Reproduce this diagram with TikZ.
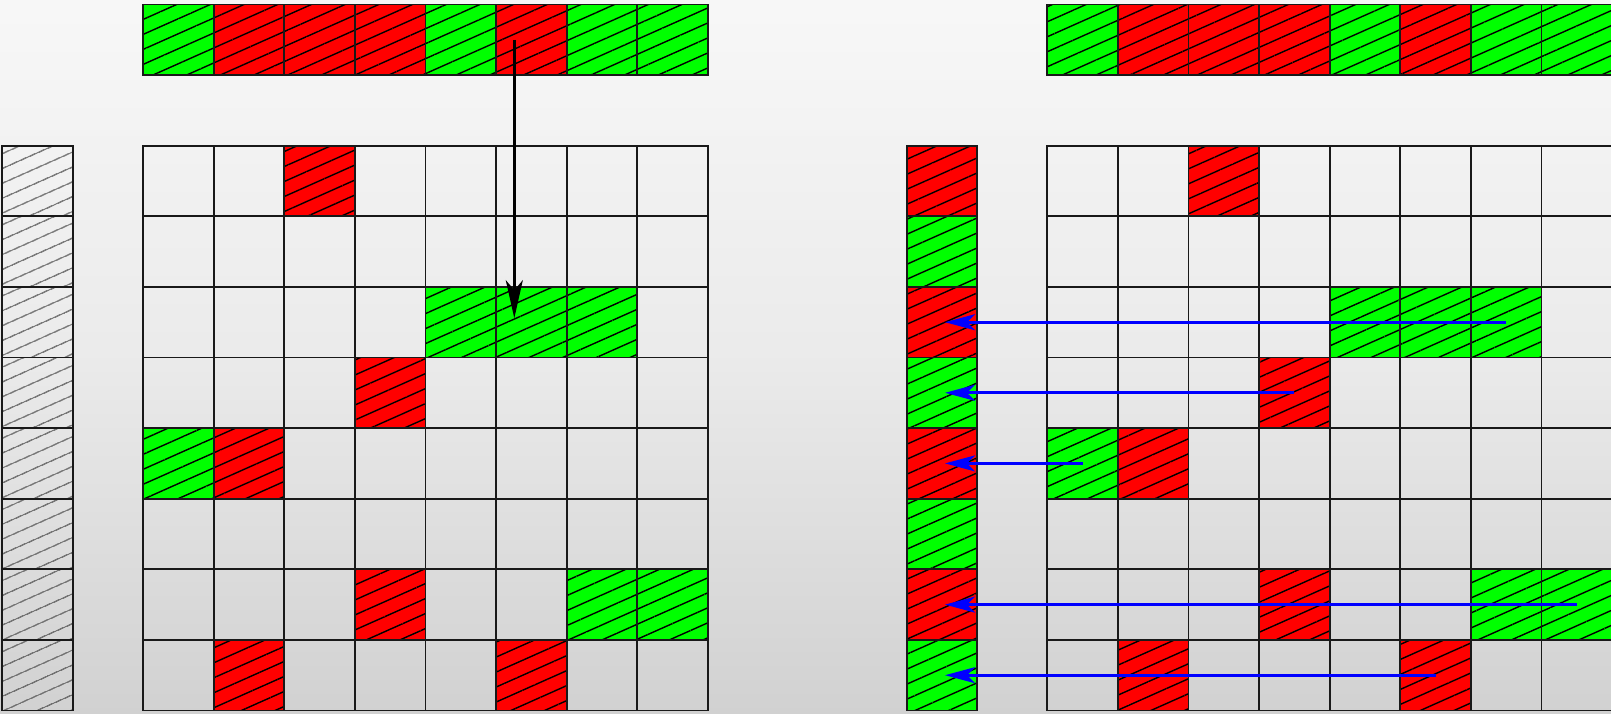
\documentclass[tikz,border=0pt]{standalone}
\usetikzlibrary{patterns.meta,arrows.meta}
\definecolor{gr}{RGB}{0,255,0}
\definecolor{rd}{RGB}{255,0,0}
\definecolor{bl}{RGB}{0,0,255}
\tikzset{
 cell/.style={draw=black!90, line width=1.8pt, minimum size=70.6pt, inner sep=0pt, outer sep=0pt, anchor=north west},
 hatch/.style={pattern={Lines[angle=24,distance=13.7pt,line width=1.4pt]}, pattern color=black},
 gcell/.style={cell, hatch, preaction={fill=gr}},
 rcell/.style={cell, hatch, preaction={fill=rd}},
 ecell/.style={cell},
 hcell/.style={cell, pattern={Lines[angle=24,distance=13pt,line width=1.1pt]}, pattern color=black!75},
 bluearrow/.style={draw=bl, line width=3pt, -{Stealth[length=30pt,width=16pt,inset=8pt]}},
 blackarrow/.style={draw=black, line width=2.8pt, -{Stealth[length=38pt,width=17pt,inset=10pt]}},
}
\begin{document}
\begin{tikzpicture}[x=1pt,y=-1pt]
\useasboundingbox (0,0) rectangle (1611,713);
\clip (0,0) rectangle (1611,713);
\shade[top color=white!97!black, bottom color=white!82!black, middle color=white!92!black] (0,0) rectangle (1611,713);
\def\cs{70.6}
% top bars
\foreach \c/\t in {0/gcell,1/rcell,2/rcell,3/rcell,4/gcell,5/rcell,6/gcell,7/gcell}{
  \node[\t] (TL\c) at ({143+\c*\cs},4.5) {};
  \node[\t] (TR\c) at ({1047.3+\c*\cs},4.5) {};
}
% empty grids
\foreach \r in {0,...,7}{
  \foreach \c in {0,...,7}{
    \node[ecell] (L\r\c) at ({143+\c*\cs},{145.7+\r*\cs}) {};
    \node[ecell] (R\r\c) at ({1047.3+\c*\cs},{145.7+\r*\cs}) {};
  }
}
% filled cells
\foreach \r/\c/\t in {0/2/rcell,2/4/gcell,2/5/gcell,2/6/gcell,3/3/rcell,4/0/gcell,4/1/rcell,6/3/rcell,6/6/gcell,6/7/gcell,7/1/rcell,7/5/rcell}{
  \node[\t] (L\r\c) at ({143+\c*\cs},{145.7+\r*\cs}) {};
  \node[\t] (R\r\c) at ({1047.3+\c*\cs},{145.7+\r*\cs}) {};
}
% gray hatched column
\foreach \r in {0,...,7}{
  \node[hcell] (H\r) at (2,{145.7+\r*\cs}) {};
}
% coloured column
\foreach \r/\t in {0/rcell,1/gcell,2/rcell,3/gcell,4/rcell,5/gcell,6/rcell,7/gcell}{
  \node[\t] (C\r) at (906.7,{145.7+\r*\cs}) {};
}
% arrows
\draw[blackarrow] ([xshift=-17pt]TL5.center) -- ([xshift=-17pt,yshift=4pt]L25.center);
\draw[bluearrow] (R26.center) -- ([xshift=3pt]C2.center);
\draw[bluearrow] (R33.center) -- ([xshift=3pt]C3.center);
\draw[bluearrow] (R40.center) -- ([xshift=3pt]C4.center);
\draw[bluearrow] (R67.center) -- ([xshift=3pt]C6.center);
\draw[bluearrow] (R75.center) -- ([xshift=3pt]C7.center);
\end{tikzpicture}
\end{document}
